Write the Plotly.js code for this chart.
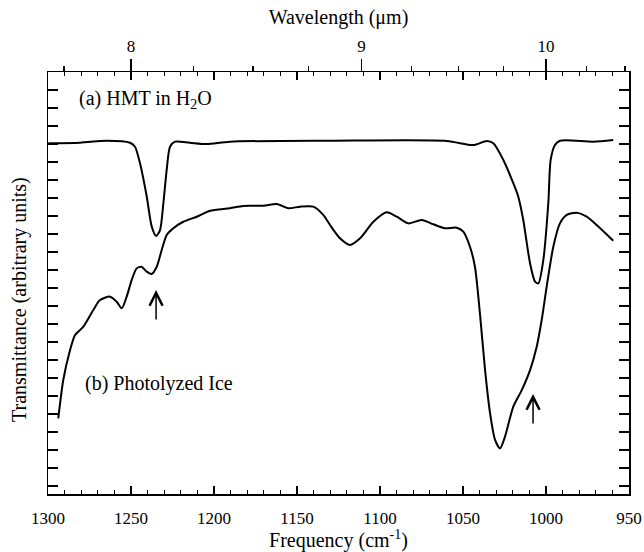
<!DOCTYPE html>
<html>
<head>
<meta charset="utf-8">
<script src="https://cdn.plot.ly/plotly-3.0.1.min.js"></script>
<style>html,body{margin:0;padding:0;background:#fff;}#chart{width:644px;height:552px;}</style>
</head>
<body>
<div id="chart"></div>
<script>
// Spectrum (a): HMT in H2O
const freqA = [1299.8,1280.7,1264.6,1250.6,1247.6,1244.6,1240.5,1237.5,1234.9,1232.5,1230.5,1228.5,1226.5,1223.5,1214.5,1204.4,1190.4,1130.1,1059.8,1043.8,1035.7,1031.7,1025.7,1019.7,1016.7,1013.7,1009.6,1006.6,1004.6,1001.6,998.6,997.2,994.6,991.6,971.5,959.5];
const transA = [17.04,17.07,17.18,17.07,16.85,15.94,14.07,12.41,11.89,12.22,13.72,15.56,16.85,17.13,17.07,17.0,17.13,17.18,17.17,16.94,17.17,17.04,16.11,14.82,14.07,12.78,10.37,9.35,9.26,10.56,13.72,16.11,16.94,17.18,17.13,17.22];

// Spectrum (b): Photolyzed ice
const freqB = [1293.8,1290.8,1286.7,1283.7,1278.7,1272.7,1268.7,1262.7,1258.6,1255.6,1252.6,1249.6,1246.6,1243.6,1240.5,1237.5,1234.5,1231.5,1228.5,1224.5,1218.5,1210.4,1202.4,1190.4,1182.4,1170.3,1162.2,1155.2,1148.2,1140.2,1134.2,1130.1,1124.1,1118.1,1112.0,1104.0,1096.0,1089.9,1082.9,1074.9,1067.9,1060.8,1053.8,1049.8,1045.8,1042.8,1039.8,1036.7,1033.7,1030.7,1027.7,1024.7,1019.7,1014.6,1009.6,1005.6,1002.6,999.6,995.6,991.6,987.5,981.5,975.5,969.5,959.5];
const transB = [1.76,3.89,5.56,6.39,6.85,7.78,8.33,8.52,8.24,7.87,8.52,9.44,10.09,10.18,9.91,9.78,10.18,11.11,11.94,12.32,12.68,12.96,13.29,13.43,13.56,13.57,13.67,13.43,13.52,13.52,13.06,12.5,11.76,11.39,11.76,12.68,13.21,12.96,12.59,12.78,12.54,12.32,12.35,12.13,11.29,10.18,7.59,4.44,2.04,0.56,0.09,0.74,2.41,3.33,4.44,5.74,7.22,9.07,11.29,12.59,13.06,13.18,12.96,12.5,11.63];

// Top axis (wavelength, um)
const wlMajor = [8, 9, 10];
const wlMinor = [7.75, 8.25, 8.5, 8.75, 9.25, 9.5, 9.75, 10.25, 10.5];

// Labels and arrow marks
const labelA = '(a) HMT in H<sub>2</sub>O';
const labelB = '(b) Photolyzed Ice';
const yTitle = 'Transmittance (arbitrary units)';
const arrowFreq = [1234.9, 1007.8];
const arrowTrans = [8.89, 3.11];

const toFreq = w => 10000 / w;
const serif = 'Liberation Serif, Times New Roman, serif';
const xr = [1300, 950];

const traces = [
  {x: freqA, y: transA, type: 'scatter', mode: 'lines', line: {color: '#000', width: 2, shape: 'spline', smoothing: 0.7}, hoverinfo: 'skip'},
  {x: freqB, y: transB, type: 'scatter', mode: 'lines', line: {color: '#000', width: 2, shape: 'spline', smoothing: 0.7}, hoverinfo: 'skip'},
  {x: [1100], y: [10], xaxis: 'x2', type: 'scatter', mode: 'markers', marker: {opacity: 0}, hoverinfo: 'skip'},
  {x: [1100], y: [10], xaxis: 'x3', type: 'scatter', mode: 'markers', marker: {opacity: 0}, hoverinfo: 'skip'},
  {x: [1100], y: [10], xaxis: 'x4', type: 'scatter', mode: 'markers', marker: {opacity: 0}, hoverinfo: 'skip'}
];

const annotations = [
  {x: 1282.5, y: 19.5, xref: 'x', yref: 'y', text: labelA, showarrow: false, xanchor: 'left', yanchor: 'middle', font: {family: serif, size: 20, color: '#000'}},
  {x: 1278.9, y: 3.67, xref: 'x', yref: 'y', text: labelB, showarrow: false, xanchor: 'left', yanchor: 'middle', font: {family: serif, size: 20, color: '#000'}},
  {x: 0, y: 0.5, xref: 'paper', yref: 'paper', xanchor: 'center', yanchor: 'middle', xshift: -29, yshift: -17, textangle: -90, text: yTitle, showarrow: false, font: {family: serif, size: 20, color: '#000'}}
];
arrowFreq.forEach((f, i) => {
  annotations.push({x: f, y: arrowTrans[i], xref: 'x', yref: 'y', text: '', showarrow: true, ax: 0, ay: 31, arrowhead: 5, arrowsize: 1.7, arrowwidth: 1.5, arrowcolor: '#000'});
});

const layout = {
  width: 644, height: 552,
  margin: {l: 48, r: 15, t: 72, b: 58},
  paper_bgcolor: '#fff', plot_bgcolor: '#fff',
  showlegend: false,
  font: {family: serif, color: '#000'},
  xaxis: {
    range: xr, showgrid: false, zeroline: false,
    showline: true, linecolor: '#000', linewidth: 1.5, mirror: 'allticks',
    ticks: 'inside', tick0: 1300, dtick: 50, ticklen: 8, tickwidth: 1.5, tickcolor: '#000',
    minor: {ticks: 'inside', dtick: 10, ticklen: 4, tickwidth: 1.2, tickcolor: '#000', showgrid: false},
    tickfont: {family: serif, size: 17, color: '#000'},
    ticklabelstandoff: 8,
    title: {text: 'Frequency (cm<sup>-1</sup>)', font: {family: serif, size: 20, color: '#000'}, standoff: 9}
  },
  xaxis2: {
    overlaying: 'x', side: 'top', range: xr, anchor: 'y',
    showgrid: false, zeroline: false, showline: false,
    tickmode: 'array', tickvals: wlMajor.map(toFreq), ticktext: wlMajor.map(String),
    ticks: 'outside', ticklen: 12, tickwidth: 1.5, tickcolor: '#000',
    tickfont: {family: serif, size: 17, color: '#000'},
    title: {text: 'Wavelength (\u03bcm)', font: {family: serif, size: 20, color: '#000'}, standoff: 7}
  },
  xaxis3: {
    overlaying: 'x', side: 'top', range: xr, anchor: 'y',
    showgrid: false, zeroline: false, showline: false,
    tickmode: 'array', tickvals: wlMinor.map(toFreq), showticklabels: false,
    ticks: 'outside', ticklen: 5, tickwidth: 1.2, tickcolor: '#000'
  },
  xaxis4: {
    overlaying: 'x', side: 'top', range: xr, anchor: 'y',
    showgrid: false, zeroline: false, showline: false, showticklabels: false,
    ticks: 'inside', tick0: 1300, dtick: 50, ticklen: 7, tickwidth: 1.5, tickcolor: '#000',
    minor: {ticks: 'inside', dtick: 10, ticklen: 4, tickwidth: 1.2, tickcolor: '#000', showgrid: false}
  },
  yaxis: {
    range: [-2.444, 21], showgrid: false, zeroline: false,
    showline: true, linecolor: '#000', linewidth: 1.5, mirror: 'allticks',
    ticks: 'inside', tick0: 0, dtick: 5, ticklen: 10, tickwidth: 1.5, tickcolor: '#000',
    minor: {ticks: 'inside', dtick: 1, ticklen: 5, tickwidth: 1.2, tickcolor: '#000', showgrid: false},
    showticklabels: false
  },
  annotations: annotations
};

Plotly.newPlot('chart', traces, layout, {staticPlot: true, displayModeBar: false});
</script>
</body>
</html>
